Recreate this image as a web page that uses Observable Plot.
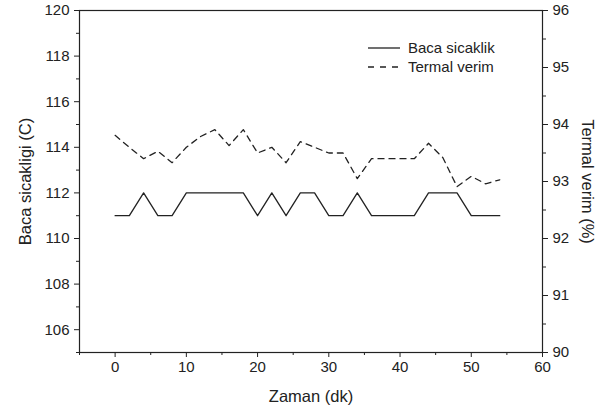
<!DOCTYPE html>
<html><head><meta charset="utf-8">
<script src="https://cdn.jsdelivr.net/npm/d3@7"></script>
<script src="https://cdn.jsdelivr.net/npm/@observablehq/plot@0.6"></script>
<style>
body{margin:0;background:#fff;}
#chart{position:relative;width:608px;height:411px;font-family:"Liberation Sans",Arial,sans-serif;}
#legend{position:absolute;left:0;top:0;}
</style>
</head><body><div id="chart"></div>
<script>
const time = [0,2,4,6,8,10,12,14,16,18,20,22,24,26,28,30,32,34,36,38,40,42,44,46,48,50,52,54];
const bacaSicaklik = [111,111,112,111,111,112,112,112,112,112,111,112,111,112,112,111,111,112,111,111,111,111,112,112,112,111,111,111];
const termalVerim = [93.81,93.6,93.4,93.53,93.33,93.6,93.79,93.91,93.63,93.91,93.5,93.6,93.33,93.7,93.6,93.5,93.5,93.05,93.4,93.4,93.4,93.4,93.67,93.42,92.91,93.09,92.96,93.03];
const xTicks = [0,10,20,30,40,50,60];
const xMinor = [-5,5,15,25,35,45,55];
const leftTicks = [106,108,110,112,114,116,118,120];
const leftMinor = [105,107,109,111,113,115,117,119];
const rightTicks = [90,91,92,93,94,95,96];
const rightMinor = [90.5,91.5,92.5,93.5,94.5,95.5];
const labels = {x:"Zaman (dk)", yLeft:"Baca sicakligi (C)", yRight:"Termal verim (%)"};
const seriesNames = ["Baca sicaklik","Termal verim"];

const toLeft = v => 105 + (v - 90) * 2.5;
const fromLeft = y => Math.round((90 + (y - 105) / 2.5) * 100) / 100;
const rows = time.map((t, i) => ({t, baca: bacaSicaklik[i], verim: toLeft(termalVerim[i])}));

const ink = "#222";
const font = '"Liberation Sans", Arial, sans-serif';

const chart = Plot.plot({
  width: 608, height: 411,
  marginLeft: 79, marginRight: 66, marginTop: 10, marginBottom: 59,
  x: {domain: [-5, 60]},
  y: {domain: [105, 120]},
  style: {fontSize: "15px", fontFamily: font, color: ink, background: "#fff"},
  marks: [
    Plot.frame({stroke: ink, strokeWidth: 1.2}),
    Plot.axisX({ticks: xTicks, tickSize: 5, tickPadding: 4, label: null, tickFormat: d => d}),
    Plot.axisX({ticks: xMinor, tickSize: 3, tickFormat: () => "", label: null}),
    Plot.axisY({ticks: leftTicks, tickSize: 5, tickPadding: 5, label: null, tickFormat: d => d}),
    Plot.axisY({ticks: leftMinor, tickSize: 3, tickFormat: () => "", label: null}),
    Plot.axisY({anchor: "right", ticks: rightTicks.map(toLeft), tickSize: 5, tickPadding: 5, label: null, tickFormat: fromLeft}),
    Plot.axisY({anchor: "right", ticks: rightMinor.map(toLeft), tickSize: 3, tickFormat: () => "", label: null}),
    Plot.line(rows, {x: "t", y: "baca", stroke: ink, strokeWidth: 1.3}),
    Plot.line(rows, {x: "t", y: "verim", stroke: ink, strokeWidth: 1.3, strokeDasharray: "6,5"}),
    Plot.text([labels.x], {frameAnchor: "bottom", dy: 44, textAnchor: "middle", lineAnchor: "middle", text: d => d, fontSize: 16.5, fill: ink}),
    Plot.text([labels.yLeft], {frameAnchor: "left", dx: -54, rotate: -90, textAnchor: "middle", lineAnchor: "middle", text: d => d, fontSize: 16.5, fill: ink}),
    Plot.text([labels.yRight], {frameAnchor: "right", dx: 45, rotate: 90, textAnchor: "middle", lineAnchor: "middle", text: d => d, fontSize: 16.5, fill: ink})
  ]
});
const host = document.getElementById("chart");
host.appendChild(chart);

const ns = "http://www.w3.org/2000/svg";
const lg = document.createElementNS(ns, "svg");
lg.setAttribute("id", "legend");
lg.setAttribute("width", 608); lg.setAttribute("height", 411);
lg.style.pointerEvents = "none";
seriesNames.forEach((name, i) => {
  const y = 48 + i * 19;
  const ln = document.createElementNS(ns, "line");
  ln.setAttribute("x1", 368); ln.setAttribute("x2", 400);
  ln.setAttribute("y1", y); ln.setAttribute("y2", y);
  ln.setAttribute("stroke", ink); ln.setAttribute("stroke-width", 1.3);
  if (i === 1) ln.setAttribute("stroke-dasharray", "6,6");
  lg.appendChild(ln);
  const tx = document.createElementNS(ns, "text");
  tx.setAttribute("x", 408); tx.setAttribute("y", y + 5);
  tx.setAttribute("font-size", 15); tx.setAttribute("font-family", font);
  tx.setAttribute("fill", ink);
  tx.textContent = name;
  lg.appendChild(tx);
});
host.appendChild(lg);
</script>
</body></html>
